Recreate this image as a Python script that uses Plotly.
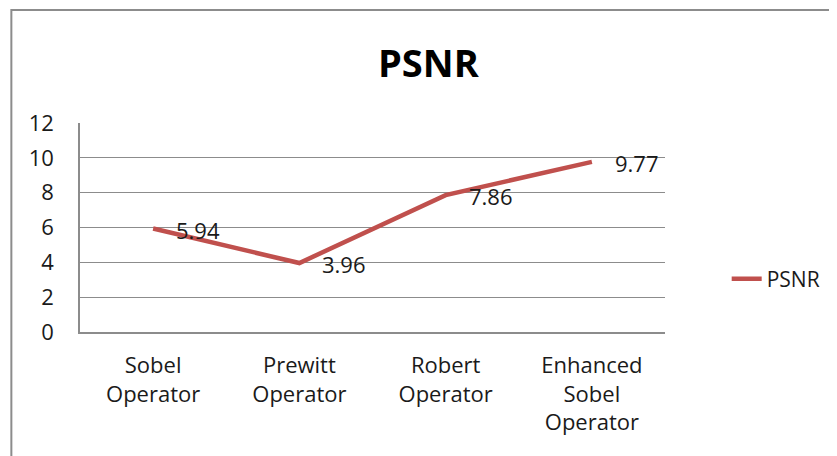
import plotly.graph_objects as go

categories = ["Sobel<br>Operator", "Prewitt<br>Operator", "Robert<br>Operator", "Enhanced<br>Sobel<br>Operator"]
psnr = [5.94, 3.96, 7.86, 9.77]
series_name = "PSNR"
y_ticks = [0, 2, 4, 6, 8, 10, 12]

FONT = "'Open Sans', Lato, sans-serif"
LINE = "#C0504D"
TXT = "#1a1a1a"
GRID = "#8c8c8c"

# page body has an 8px margin; figure coordinates are page coordinates - 8
OFF = 8
W, H = 837 - OFF, 456 - OFF
L, T = 80 - OFF, 123 - OFF
R = W - (668 - OFF)
B = H - (332 - OFF)
pw, ph = W - L - R, H - T - B

def px_x(x):
    return (x - OFF - L) / pw

def px_y(y):
    return (H - B - (y - OFF)) / ph

fig = go.Figure()
fig.add_trace(go.Scatter(
    x=categories, y=psnr, mode="lines", name=series_name,
    line=dict(color=LINE, width=4.5),
))

for c, v in zip(categories, psnr):
    fig.add_annotation(x=c, y=v, xref="x", yref="y", text=f"{v:.2f}",
                       showarrow=False, xanchor="left", yanchor="middle",
                       xshift=21, yshift=-1,
                       font=dict(family=FONT, size=22, color=TXT))

fig.add_annotation(x=px_x(431), y=px_y(62), xref="paper", yref="paper",
                   text="<b>PSNR</b>", showarrow=False,
                   xanchor="center", yanchor="middle",
                   font=dict(family=FONT, size=38, color="#000"))

# outer chart border
fig.add_shape(type="rect", xref="paper", yref="paper",
              x0=px_x(11), x1=px_x(880), y0=px_y(10), y1=px_y(500),
              line=dict(color="#8c8c8c", width=2), layer="below")

fig.update_layout(
    width=W, height=H,
    margin=dict(l=L, r=R, t=T, b=B, pad=0),
    paper_bgcolor="white", plot_bgcolor="white",
    font=dict(family=FONT, size=22, color=TXT),
    showlegend=True,
    legend=dict(x=px_x(730), y=px_y(279), xanchor="left", yanchor="middle",
                font=dict(family=FONT, size=21, color=TXT),
                bgcolor="rgba(0,0,0,0)"),
    xaxis=dict(type="category", range=[-0.5, 3.5], showgrid=False,
               showline=True, linecolor=GRID, linewidth=1.5,
               ticks="", ticklabelstandoff=13, zeroline=False,
               tickfont=dict(family=FONT, size=22, color=TXT)),
    yaxis=dict(range=[0, 12], tickvals=y_ticks, showgrid=True,
               gridcolor=GRID, gridwidth=1.2,
               showline=True, linecolor=GRID, linewidth=1.5,
               ticks="", ticklabelstandoff=20, zeroline=False,
               tickfont=dict(family=FONT, size=22, color=TXT)),
)

fig.write_html("out.html")
